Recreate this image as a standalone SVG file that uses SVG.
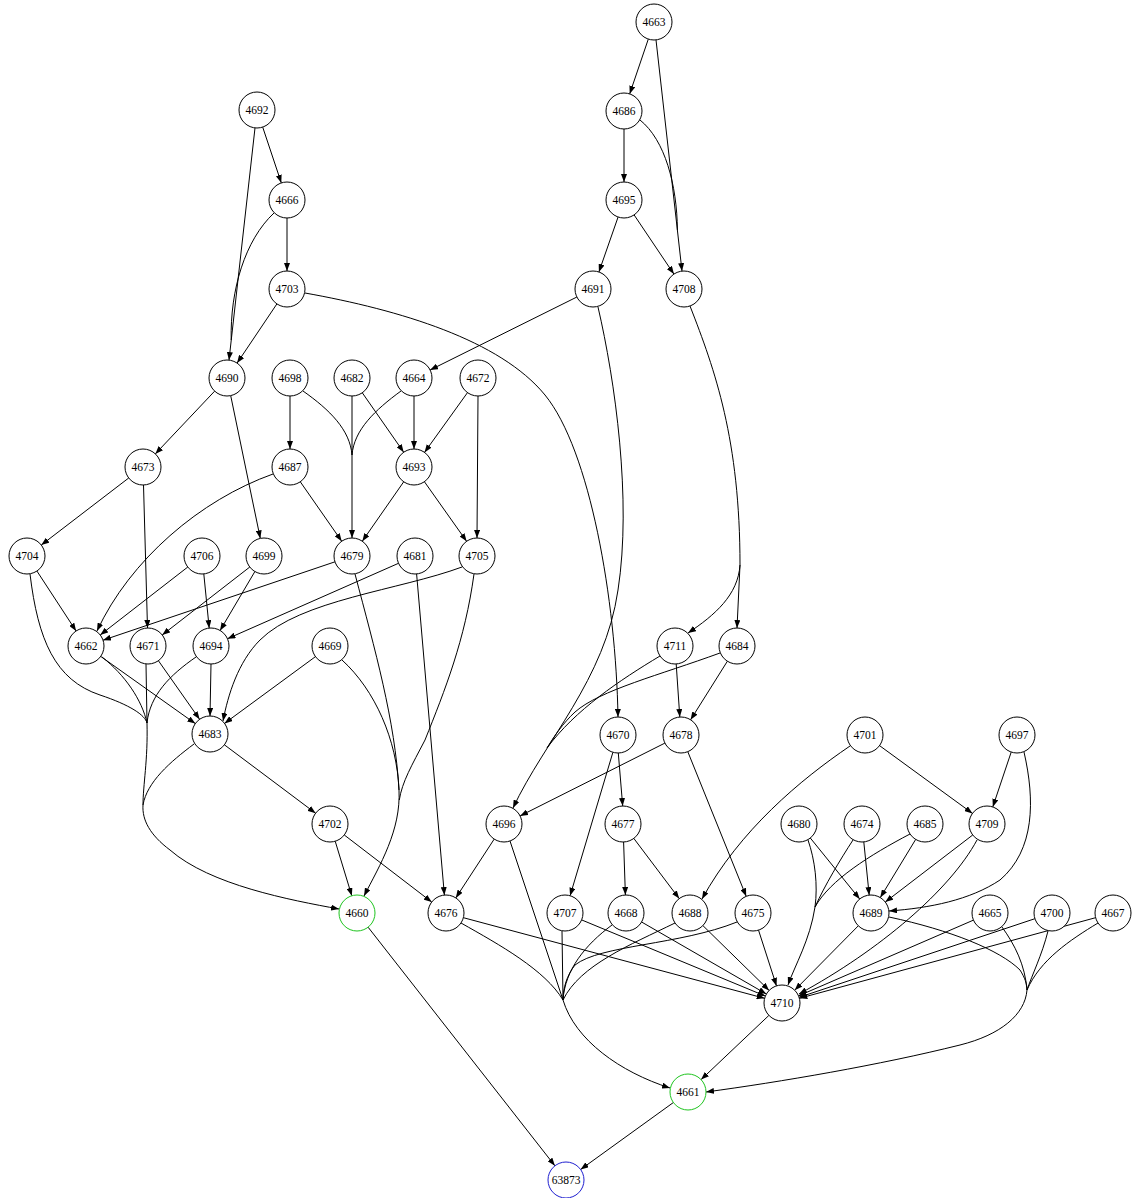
<svg xmlns="http://www.w3.org/2000/svg" width="1132" height="1198" viewBox="0 0 1132 1198">
<style>
.n circle{fill:#fff;stroke:#000;stroke-width:1}
.n text{font-family:"Liberation Serif","Times New Roman",serif;font-size:11.5px;text-anchor:middle;dominant-baseline:central;fill:#000}
.g circle{stroke:#1fc41f}
.b circle{stroke:#2020d0}
#edges path{fill:none;stroke:#000;stroke-width:1;marker-end:url(#ah)}
#edges path.nm{marker-end:none}
</style>
<defs>
<marker id="ah" viewBox="0 0 8 6" refX="8" refY="3" markerWidth="8" markerHeight="6" markerUnits="userSpaceOnUse" orient="auto">
<path d="M0,0 L8,3 L0,6 z" fill="#000"/>
</marker>
</defs>
<rect width="1132" height="1198" fill="#fff"/>
<g id="edges">
<path d="M648.3,39.1 L629.7,93.9"/>
<path d="M656,39.9 L682,271.1"/>
<path d="M624,129 L624,182"/>
<path class="nm" d="M640,120 C665,140 677,185 677.4,230"/>
<path d="M618.1,217 L598.9,272"/>
<path d="M634.1,214.9 L673.9,274.1"/>
<path d="M262.7,127.1 L281.3,182.9"/>
<path d="M255,127.9 L229,360.1"/>
<path class="nm" d="M274,213 C245,240 230,290 231.2,340"/>
<path d="M287,218 L287,271"/>
<path d="M276.9,303.9 L237.1,363.1"/>
<path d="M305,293 C400,310 500,340 545,395 C590,450 616,600 618,717"/>
<path d="M576.9,297 L430.1,370"/>
<path d="M598,307 C615,380 632,500 618,590 C605,680 545,740 513,808"/>
<path class="nm" d="M660,656 C620,680 575,710 547,748"/>
<path class="nm" d="M720,653 C660,675 600,690 575,712 C563,723 553,738 547,748"/>
<path d="M690,306 C715,370 740,440 740,565 L737,628"/>
<path d="M740,565 C738,595 715,615 688,633"/>
<path d="M214.7,391.1 L155.3,453.9"/>
<path d="M230.7,395.6 L260.3,538.4"/>
<path d="M290,396 L290,449"/>
<path class="nm" d="M303,391 C330,410 350,430 352,455"/>
<path class="nm" d="M401,391 C375,410 354,430 352,455"/>
<path d="M352,396 L352,538"/>
<path d="M362.3,392.8 L403.7,452.2"/>
<path d="M414,396 L414,449"/>
<path d="M467.5,392.6 L424.5,452.4"/>
<path d="M478,396 L477,538"/>
<path d="M403.7,481.8 L362.3,541.2"/>
<path d="M424.4,481.7 L466.6,541.3"/>
<path d="M300.3,481.8 L341.7,541.2"/>
<path d="M273,474 C200,500 130,560 97,631"/>
<path d="M128.7,478 L41.3,545"/>
<path d="M143.5,485 L147.5,628"/>
<path d="M36.9,571 L76.1,631"/>
<path class="nm" d="M30,574 C38,640 55,680 100,695 C130,705 145,715 147,723"/>
<path class="nm" d="M102,657 C125,675 142,700 147,723"/>
<path class="nm" d="M146,664 L147,723"/>
<path class="nm" d="M196,657 C170,675 150,695 147,723"/>
<path class="nm" d="M194,744 C170,762 147,782 143,805"/>
<path d="M147,723 C148,760 143,785 143,805 C142,820 150,835 170,850 C210,885 290,900 339,909"/>
<path d="M100.7,656.4 L195.3,723.6"/>
<path d="M158.4,660.7 L199.6,719.3"/>
<path d="M211,664 L210,716"/>
<path d="M315.5,656.6 L224.5,723.4"/>
<path d="M462,567 C400,590 300,600 260,640 C238,662 228,695 223,721"/>
<path d="M187.8,567 L100.2,635"/>
<path d="M203.8,573.9 L209.2,628.1"/>
<path d="M249.8,567 L162.2,635"/>
<path d="M254.9,571.5 L220.1,630.5"/>
<path d="M335,561.8 L103,640.2"/>
<path class="nm" d="M355,574 C375,650 395,720 399,790"/>
<path class="nm" d="M342,660 C375,690 397,740 399,790"/>
<path class="nm" d="M474,574 C465,640 445,690 425,740 C412,765 402,782 399.3,800"/>
<path d="M399,790 C401,830 380,865 364,896"/>
<path d="M398.5,563.3 L227.5,638.7"/>
<path d="M416.6,573.9 L444.4,895.1"/>
<path d="M224.4,744.8 L315.6,813.2"/>
<path d="M335.2,841.2 L351.8,895.8"/>
<path d="M344.3,835 L431.7,902"/>
<path d="M368.1,927.2 L554.9,1165.8"/>
<path d="M673.4,1102.5 L580.6,1169.5"/>
<path d="M768.9,1015.4 L701.1,1079.6"/>
<path d="M676.2,664 L679.8,717"/>
<path d="M727.4,661.2 L690.6,719.8"/>
<path d="M664.9,743.1 L520.1,815.9"/>
<path d="M687.8,751.7 L746.2,896.3"/>
<path d="M618.3,753 L622.7,806"/>
<path d="M612.9,752.3 L570.1,895.7"/>
<path d="M494.2,839.1 L455.8,897.9"/>
<path class="nm" d="M510,841 L563,1000"/>
<path class="nm" d="M461,923 C500,945 545,970 563,1000"/>
<path class="nm" d="M562,931 L563,1000"/>
<path class="nm" d="M612,925 C585,945 565,970 563,1000"/>
<path class="nm" d="M675,923 C630,945 580,965 563,1000"/>
<path class="nm" d="M737,922 C680,945 600,945 575,965 C567,975 563,988 563,1000"/>
<path d="M563,1000 C575,1040 620,1072 670,1088"/>
<path d="M463.4,917.7 L764.6,998.3"/>
<path d="M581.6,919.9 L765.4,996.1"/>
<path d="M641.6,922 L766.4,994"/>
<path d="M702.9,925.6 L769.1,990.4"/>
<path d="M758.5,930.1 L776.5,985.9"/>
<path d="M623.6,842 L625.4,895"/>
<path d="M633.8,838.4 L679.2,898.6"/>
<path d="M850,746 C800,780 740,830 702,899"/>
<path d="M879.5,745.6 L972.5,813.4"/>
<path d="M1011.2,752.1 L992.8,806.9"/>
<path d="M1024,752 C1035,800 1035,850 1000,880 C970,900 930,908 889,911"/>
<path d="M810.3,838 L859.7,899"/>
<path class="nm" d="M808,840 C815,860 818,885 815,907"/>
<path class="nm" d="M853,840 C840,860 825,885 815,907"/>
<path class="nm" d="M910,834 C870,855 830,880 815,907"/>
<path d="M815,907 C810,940 795,965 788,985"/>
<path d="M863.8,841.9 L869.2,895.1"/>
<path d="M915.7,839.4 L880.3,897.6"/>
<path d="M972.7,835 L885.3,902"/>
<path d="M977,840 C950,890 880,950 799,994"/>
<path d="M858.3,925.8 L794.7,990.2"/>
<path class="nm" d="M889,917 C950,930 1000,950 1020,970 C1025,978 1027,984 1027,990"/>
<path class="nm" d="M1002,927 C1015,945 1025,965 1027,990"/>
<path class="nm" d="M1048,931 C1042,955 1032,975 1027,990"/>
<path class="nm" d="M1098,923 C1070,940 1040,960 1027,990"/>
<path d="M1027,990 C1025,1015 1000,1035 960,1045 C880,1065 780,1082 706,1092"/>
<path d="M973.5,920.1 L798.5,995.9"/>
<path d="M1034.9,918.7 L799.1,997.3"/>
<path d="M1095.6,917.7 L799.4,998.3"/>
</g>
<g id="n4663" class="n"><circle cx="654" cy="22" r="18"/><text x="654" y="22">4663</text></g>
<g id="n4692" class="n"><circle cx="257" cy="110" r="18"/><text x="257" y="110">4692</text></g>
<g id="n4686" class="n"><circle cx="624" cy="111" r="18"/><text x="624" y="111">4686</text></g>
<g id="n4666" class="n"><circle cx="287" cy="200" r="18"/><text x="287" y="200">4666</text></g>
<g id="n4695" class="n"><circle cx="624" cy="200" r="18"/><text x="624" y="200">4695</text></g>
<g id="n4703" class="n"><circle cx="287" cy="289" r="18"/><text x="287" y="289">4703</text></g>
<g id="n4691" class="n"><circle cx="593" cy="289" r="18"/><text x="593" y="289">4691</text></g>
<g id="n4708" class="n"><circle cx="684" cy="289" r="18"/><text x="684" y="289">4708</text></g>
<g id="n4690" class="n"><circle cx="227" cy="378" r="18"/><text x="227" y="378">4690</text></g>
<g id="n4698" class="n"><circle cx="290" cy="378" r="18"/><text x="290" y="378">4698</text></g>
<g id="n4682" class="n"><circle cx="352" cy="378" r="18"/><text x="352" y="378">4682</text></g>
<g id="n4664" class="n"><circle cx="414" cy="378" r="18"/><text x="414" y="378">4664</text></g>
<g id="n4672" class="n"><circle cx="478" cy="378" r="18"/><text x="478" y="378">4672</text></g>
<g id="n4673" class="n"><circle cx="143" cy="467" r="18"/><text x="143" y="467">4673</text></g>
<g id="n4687" class="n"><circle cx="290" cy="467" r="18"/><text x="290" y="467">4687</text></g>
<g id="n4693" class="n"><circle cx="414" cy="467" r="18"/><text x="414" y="467">4693</text></g>
<g id="n4704" class="n"><circle cx="27" cy="556" r="18"/><text x="27" y="556">4704</text></g>
<g id="n4706" class="n"><circle cx="202" cy="556" r="18"/><text x="202" y="556">4706</text></g>
<g id="n4699" class="n"><circle cx="264" cy="556" r="18"/><text x="264" y="556">4699</text></g>
<g id="n4679" class="n"><circle cx="352" cy="556" r="18"/><text x="352" y="556">4679</text></g>
<g id="n4681" class="n"><circle cx="415" cy="556" r="18"/><text x="415" y="556">4681</text></g>
<g id="n4705" class="n"><circle cx="477" cy="556" r="18"/><text x="477" y="556">4705</text></g>
<g id="n4662" class="n"><circle cx="86" cy="646" r="18"/><text x="86" y="646">4662</text></g>
<g id="n4671" class="n"><circle cx="148" cy="646" r="18"/><text x="148" y="646">4671</text></g>
<g id="n4694" class="n"><circle cx="211" cy="646" r="18"/><text x="211" y="646">4694</text></g>
<g id="n4669" class="n"><circle cx="330" cy="646" r="18"/><text x="330" y="646">4669</text></g>
<g id="n4711" class="n"><circle cx="675" cy="646" r="18"/><text x="675" y="646">4711</text></g>
<g id="n4684" class="n"><circle cx="737" cy="646" r="18"/><text x="737" y="646">4684</text></g>
<g id="n4683" class="n"><circle cx="210" cy="734" r="18"/><text x="210" y="734">4683</text></g>
<g id="n4670" class="n"><circle cx="618" cy="735" r="18"/><text x="618" y="735">4670</text></g>
<g id="n4678" class="n"><circle cx="681" cy="735" r="18"/><text x="681" y="735">4678</text></g>
<g id="n4701" class="n"><circle cx="865" cy="735" r="18"/><text x="865" y="735">4701</text></g>
<g id="n4697" class="n"><circle cx="1017" cy="735" r="18"/><text x="1017" y="735">4697</text></g>
<g id="n4702" class="n"><circle cx="330" cy="824" r="18"/><text x="330" y="824">4702</text></g>
<g id="n4696" class="n"><circle cx="504" cy="824" r="18"/><text x="504" y="824">4696</text></g>
<g id="n4677" class="n"><circle cx="623" cy="824" r="18"/><text x="623" y="824">4677</text></g>
<g id="n4680" class="n"><circle cx="799" cy="824" r="18"/><text x="799" y="824">4680</text></g>
<g id="n4674" class="n"><circle cx="862" cy="824" r="18"/><text x="862" y="824">4674</text></g>
<g id="n4685" class="n"><circle cx="925" cy="824" r="18"/><text x="925" y="824">4685</text></g>
<g id="n4709" class="n"><circle cx="987" cy="824" r="18"/><text x="987" y="824">4709</text></g>
<g id="n4660" class="n g"><circle cx="357" cy="913" r="18"/><text x="357" y="913">4660</text></g>
<g id="n4676" class="n"><circle cx="446" cy="913" r="18"/><text x="446" y="913">4676</text></g>
<g id="n4707" class="n"><circle cx="565" cy="913" r="18"/><text x="565" y="913">4707</text></g>
<g id="n4668" class="n"><circle cx="626" cy="913" r="18"/><text x="626" y="913">4668</text></g>
<g id="n4688" class="n"><circle cx="690" cy="913" r="18"/><text x="690" y="913">4688</text></g>
<g id="n4675" class="n"><circle cx="753" cy="913" r="18"/><text x="753" y="913">4675</text></g>
<g id="n4689" class="n"><circle cx="871" cy="913" r="18"/><text x="871" y="913">4689</text></g>
<g id="n4665" class="n"><circle cx="990" cy="913" r="18"/><text x="990" y="913">4665</text></g>
<g id="n4700" class="n"><circle cx="1052" cy="913" r="18"/><text x="1052" y="913">4700</text></g>
<g id="n4667" class="n"><circle cx="1113" cy="913" r="18"/><text x="1113" y="913">4667</text></g>
<g id="n4710" class="n"><circle cx="782" cy="1003" r="18"/><text x="782" y="1003">4710</text></g>
<g id="n4661" class="n g"><circle cx="688" cy="1092" r="18"/><text x="688" y="1092">4661</text></g>
<g id="n63873" class="n b"><circle cx="566" cy="1180" r="18"/><text x="566" y="1180">63873</text></g>
</svg>
